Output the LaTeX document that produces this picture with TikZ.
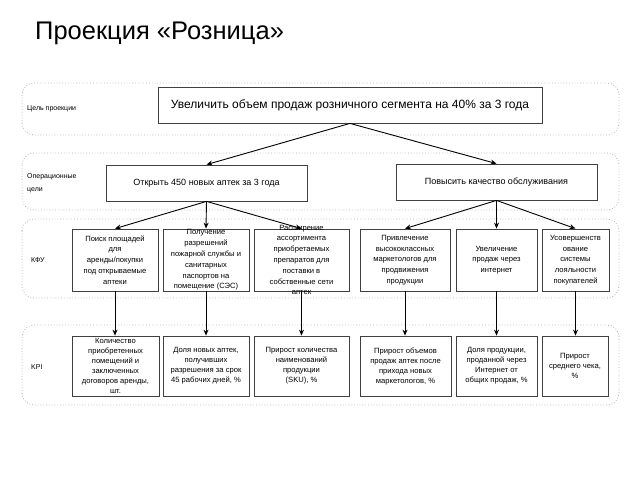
\documentclass[tikz,border=0pt]{standalone}
\usepackage{fontspec}
\setmainfont{Liberation Sans}
\usetikzlibrary{arrows.meta}
\begin{document}
\begin{tikzpicture}[x=1pt,y=-1pt,
  band/.style={draw=black!30, dotted, line width=0.8pt, rounded corners=12pt},
  box/.style={draw=black!75, line width=0.8pt, fill=white, inner sep=0pt, anchor=center},
  txt/.style={align=center, inner sep=0pt, anchor=center},
  kfut/.style={txt, font=\fontsize{7.6}{10.8}\selectfont},
  kpit/.style={txt, font=\fontsize{7.6}{10}\selectfont},
  kfu/.style={box, minimum height=62pt},
  kpi/.style={box, minimum height=60pt},
  lbl/.style={font=\fontsize{7}{13}\selectfont, anchor=west, align=left, inner sep=0pt},
  arr/.style={-{Stealth[length=6pt,width=5pt]}, line width=0.9pt, black}]
\useasboundingbox (0,0) rectangle (640,480);

% title
\node[anchor=west, inner sep=0pt, font=\fontsize{25.5}{28}\selectfont] (title) at (35,33) {Проекция «Розница»};

% bands
\draw[band] (22,83) rectangle (619,135);
\draw[band] (22,153) rectangle (619,210);
\draw[band] (22,219) rectangle (619,298);
\draw[band] (22,325) rectangle (619,405);

% left labels
\node[lbl] (l1) at (27,109) {Цель проекции};
\node[lbl] (l2) at (27,183.5) {Операционные\\цели};
\node[lbl] (l3) at (31,260) {КФУ};
\node[lbl] (l4) at (31,367) {KPI};

% top
\node[box, minimum width=384pt, minimum height=36pt] (top) at (350,105) {};
\node[txt, font=\fontsize{12}{14}\selectfont] (topt) at (top.center) {Увеличить объем продаж розничного сегмента на 40\% за 3 года};

% operational
\node[box, minimum width=201pt, minimum height=36pt] (op1) at (206.5,183) {};
\node[txt, font=\fontsize{9}{11}\selectfont] (op1t) at (op1.center) {Открыть 450 новых аптек за 3 года};
\node[box, minimum width=201pt, minimum height=36pt] (op2) at (496.5,182) {};
\node[txt, font=\fontsize{9}{11}\selectfont] (op2t) at (op2.center) {Повысить качество обслуживания};

% KFU
\node[kfu, minimum width=86pt] (k1) at (115,260) {};
\node[kfut] (k1t) at (k1.center) {Поиск площадей\\для\\аренды/покупки\\под открываемые\\аптеки};
\node[kfu, minimum width=86pt] (k2) at (206,260) {};
\node[kfut] (k2t) at (k2.center) {Получение\\разрешений\\пожарной службы и\\санитарных\\паспортов на\\помещение (СЭС)};
\node[kfu, minimum width=95pt] (k3) at (301.5,260) {};
\node[kfut] (k3t) at (k3.center) {Расширение\\ассортимента\\приобретаемых\\препаратов для\\поставки в\\собственные сети\\аптек};
\node[kfu, minimum width=90pt] (k4) at (405,260) {};
\node[kfut] (k4t) at (k4.center) {Привлечение\\высококлассных\\маркетологов для\\продвижения\\продукции};
\node[kfu, minimum width=81pt] (k5) at (496.5,260) {};
\node[kfut] (k5t) at (k5.center) {Увеличение\\продаж через\\интернет};
\node[kfu, minimum width=67pt] (k6) at (575.5,260) {};
\node[kfut] (k6t) at (k6.center) {Усовершенств\\ование\\системы\\лояльности\\покупателей};

% KPI
\node[kpi, minimum width=87pt] (p1) at (115.5,366) {};
\node[kpit] (p1t) at (p1.center) {Количество\\приобретенных\\помещений и\\заключенных\\договоров аренды,\\шт.};
\node[kpi, minimum width=86pt] (p2) at (206,366) {};
\node[kpit] (p2t) at (p2.center) {Доля новых аптек,\\получивших\\разрешения за срок\\45 рабочих дней, \%};
\node[kpi, minimum width=95pt] (p3) at (301.5,366) {};
\node[kpit] (p3t) at (p3.center) {Прирост количества\\наименований\\продукции\\(SKU), \%};
\node[kpi, minimum width=91pt] (p4) at (405.5,366) {};
\node[kpit] (p4t) at (p4.center) {Прирост объемов\\продаж аптек после\\прихода новых\\маркетологов, \%};
\node[kpi, minimum width=81pt] (p5) at (496.5,366) {};
\node[kpit] (p5t) at (p5.center) {Доля продукции,\\проданной через\\Интернет от\\общих продаж, \%};
\node[kpi, minimum width=66pt] (p6) at (575,366) {};
\node[kpit] (p6t) at (p6.center) {Прирост\\среднего чека,\\\%};

% connectors
\draw[arr] (top.south) -- (op1.north);
\draw[arr] (top.south) -- (op2.north);
\foreach \k in {k1,k2,k3} \draw[arr] (op1.south) -- (\k.north);
\foreach \k in {k4,k5,k6} \draw[arr] (op2.south) -- (\k.north);
\foreach \a/\b in {k1/p1,k2/p2,k3/p3,k4/p4,k5/p5,k6/p6} \draw[arr] (\a.south) -- (\a.south |- \b.north);
\end{tikzpicture}
\end{document}
